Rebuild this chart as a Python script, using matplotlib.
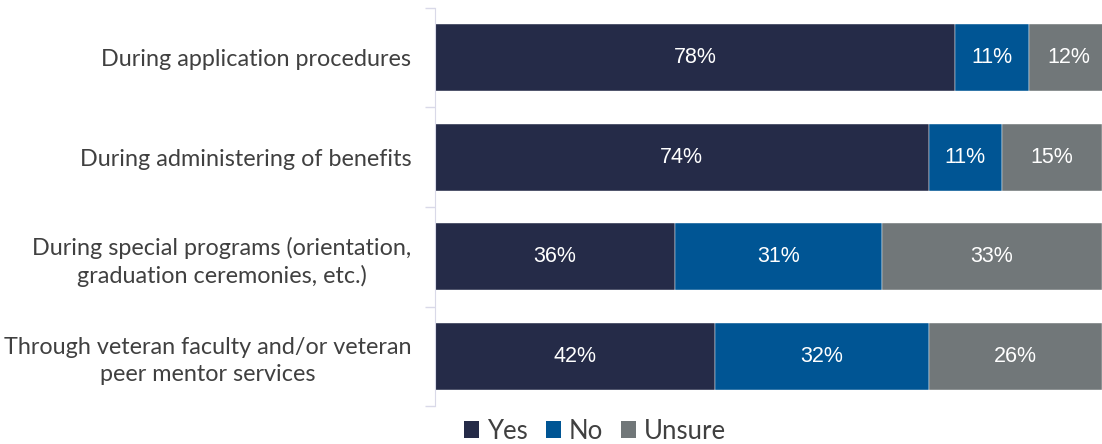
import matplotlib
matplotlib.use("Agg")
import matplotlib.pyplot as plt
from matplotlib.patches import Patch

categories = [
    "During application procedures",
    "During administering of benefits",
    "During special programs (orientation,\ngraduation ceremonies, etc.)",
    "Through veteran faculty and/or veteran\npeer mentor services",
]
yes_vals = [78, 74, 36, 42]
no_vals = [11, 11, 31, 32]
unsure_vals = [12, 15, 33, 26]
series_names = ["Yes", "No", "Unsure"]
colors = ["#252B48", "#005594", "#717779"]

fig = plt.figure(figsize=(11.02, 4.44), dpi=100)
ax = fig.add_axes([435/1102, 38/444, 667/1102, 398/444])

ypos = list(range(len(categories)))
left = [0]*len(categories)
for vals, name, col in zip([yes_vals, no_vals, unsure_vals], series_names, colors):
    bars = ax.barh(ypos, vals, left=left, height=0.67, color=col, label=name,
                   edgecolor="white", linewidth=0.3)
    for b, v, l in zip(bars, vals, left):
        cx = l + v/2
        if cx > 100:
            cx = (l + 100)/2
        ax.text(cx, b.get_y() + b.get_height()/2, f"{v}%", ha="center", va="center",
                color="white", fontsize=15.5, family="Liberation Sans")
    left = [a + b for a, b in zip(left, vals)]

ax.set_xlim(0, 100)
ax.set_ylim(len(categories) - 0.5, -0.5)
ax.set_xticks([])
ax.set_yticks([i - 0.5 for i in range(len(categories) + 1)])
ax.set_yticklabels([])
ax.set_yticks(ypos, minor=True)
ax.set_yticklabels(categories, minor=True, fontsize=16.8, family="Lato",
                   color="#404040", ha="right", multialignment="center",
                   linespacing=1.35)
ax.tick_params(axis="y", which="minor", length=0, pad=17)
ax.tick_params(axis="y", which="major", length=7, color="#D9D9E8", width=1)
for s in ["top", "right", "bottom"]:
    ax.spines[s].set_visible(False)
ax.spines["left"].set_color("#D9D9E8")

handles = [Patch(facecolor=c, label=n) for c, n in zip(colors, series_names)]
fig.legend(handles=handles, loc="center", bbox_to_anchor=(595/1102, 1 - 431/444),
           ncol=3, frameon=False, handlelength=0.6, handleheight=0.6,
           handletextpad=0.3, columnspacing=0.7,
           prop={"family": "Lato", "size": 18.5}, labelcolor="#404040")

fig.savefig("out.png", dpi=100)
